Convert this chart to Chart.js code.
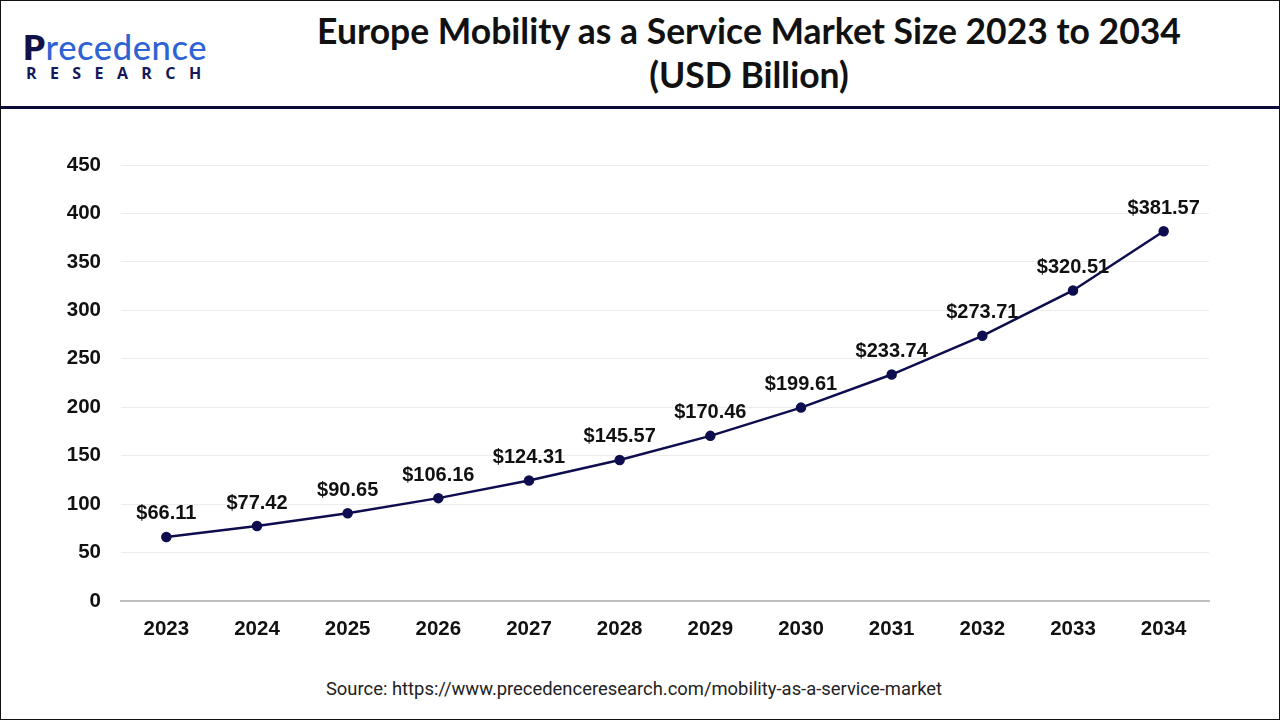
<!DOCTYPE html>
<html>
<head>
<meta charset="utf-8">
<script src="https://cdn.jsdelivr.net/npm/chart.js@4.4.0/dist/chart.umd.min.js"></script>
<style>
  html, body { margin: 0; padding: 0; background: #fff; }
  #frame { position: relative; width: 1280px; height: 720px; box-sizing: border-box; border: 1.5px solid #111; overflow: hidden; background: #fff; }
  #hline { position: absolute; left: 0; top: 105px; width: 1280px; height: 3px; background: #0b0b3b; }
  #title { position: absolute; left: 300px; width: 896px; top: 8px; text-align: center; font-family: Lato, "Open Sans", sans-serif; font-weight: 700; font-size: 35.5px; line-height: 44px; color: #111; }
  #logo1 { position: absolute; left: 22px; top: 28px; font-family: Lato, "Open Sans", sans-serif; font-size: 34.5px; font-weight: 500; color: #2e63d6; letter-spacing: 0.6px; line-height: 36px; }
  #logo1 b { color: #11124a; font-weight: 800; }
  #logo2 { position: absolute; left: 25px; top: 61px; font-family: "Open Sans", sans-serif; font-size: 16px; font-weight: 700; color: #15185a; letter-spacing: 13.4px; }
  #source { position: absolute; left: 0; width: 1266px; top: 677px; text-align: center; font-family: Roboto, "Liberation Sans", Arial, sans-serif; font-size: 18.4px; color: #222; }
  #wrap { position: absolute; left: 0; top: 110px; width: 1280px; height: 560px; }
</style>
</head>
<body>
<div id="frame">
  <div id="logo1"><b>P</b>recedence</div>
  <div id="logo2">RESEARCH</div>
  <div id="title">Europe Mobility as a Service Market Size 2023 to 2034<br>(USD Billion)</div>
  <div id="hline"></div>
  <div id="wrap"><canvas id="c" width="1280" height="560"></canvas></div>
  <div id="source">Source: https://www.precedenceresearch.com/mobility-as-a-service-market</div>
</div>
<script>
const years = ["2023","2024","2025","2026","2027","2028","2029","2030","2031","2032","2033","2034"];
const marketSize = [66.11, 77.42, 90.65, 106.16, 124.31, 145.57, 170.46, 199.61, 233.74, 273.71, 320.51, 381.57];
const yTicks = [0, 50, 100, 150, 200, 250, 300, 350, 400, 450];

const labelPlugin = {
  id: 'valueLabels',
  afterDatasetsDraw(chart) {
    const ctx = chart.ctx;
    const meta = chart.getDatasetMeta(0);
    ctx.save();
    ctx.font = 'bold 20px "Liberation Sans", Arial, sans-serif';
    ctx.fillStyle = '#111';
    ctx.textAlign = 'center';
    ctx.textBaseline = 'middle';
    meta.data.forEach((pt, i) => {
      ctx.fillText('$' + marketSize[i].toFixed(2), pt.x, pt.y - 23);
    });
    ctx.restore();
  }
};

new Chart(document.getElementById('c'), {
  type: 'line',
  data: {
    labels: years,
    datasets: [{
      data: marketSize,
      borderColor: '#0d0d4f',
      backgroundColor: '#0d0d4f',
      borderWidth: 2.5,
      pointRadius: 4,
      pointHoverRadius: 4,
      tension: 0,
      fill: false
    }]
  },
  options: {
    responsive: false,
    animation: false,
    layout: { padding: { left: 0, right: 72, top: 54, bottom: 30 } },
    plugins: { legend: { display: false }, tooltip: { enabled: false } },
    scales: {
      x: {
        offset: true,
        grid: { display: false, drawTicks: false },
        border: { display: true, color: '#c0c0c0', width: 2 },
        ticks: { color: '#111', font: { family: '"Liberation Sans", Arial, sans-serif', size: 20.5, weight: 'bold' }, padding: 16 },
        afterFit(s) { s.height = 40; }
      },
      y: {
        min: 0, max: 450,
        afterBuildTicks(s) { s.ticks = yTicks.map(v => ({ value: v })); },
        grid: { color: '#ececec', lineWidth: 1, drawTicks: false },
        border: { display: false },
        ticks: { color: '#111', font: { family: '"Liberation Sans", Arial, sans-serif', size: 20.5, weight: 'bold' }, padding: 20 },
        afterFit(s) { s.width = 120; }
      }
    }
  },
  plugins: [labelPlugin]
});
</script>
</body>
</html>
